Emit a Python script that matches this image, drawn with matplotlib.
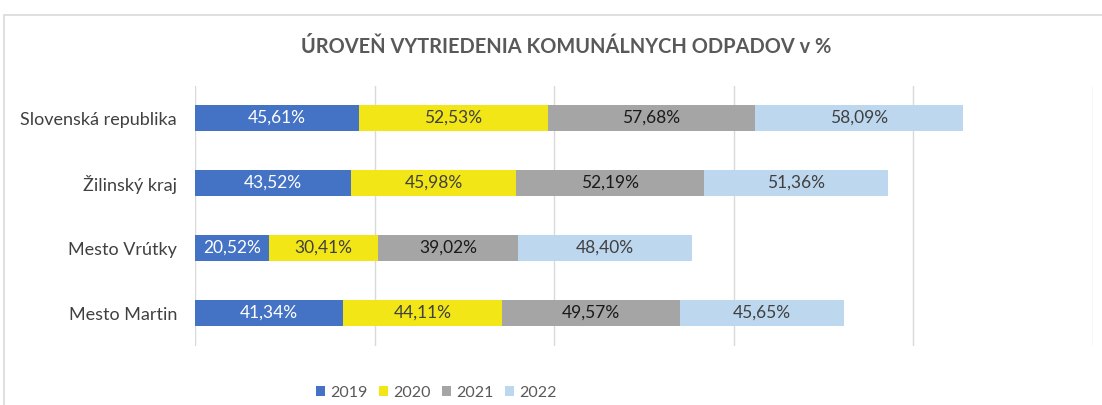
import matplotlib.pyplot as plt
import numpy as np
from matplotlib.patches import Rectangle

categories = ["Slovenská republika", "Žilinský kraj", "Mesto Vrútky", "Mesto Martin"]
years = ["2019", "2020", "2021", "2022"]
v2019 = [45.61, 43.52, 20.52, 41.34]
v2020 = [52.53, 45.98, 30.41, 44.11]
v2021 = [57.68, 52.19, 39.02, 49.57]
v2022 = [58.09, 51.36, 48.40, 45.65]

colors = ["#4472c4", "#f2e617", "#a5a5a5", "#bdd7ee"]
text_colors = ["white", "#404040", "#1a1a1a", "#404040"]


def fmt(v):
	return f"{v:.2f}%".replace(".", ",")


def main():
	plt.rcParams['font.family'] = ['Lato', 'DejaVu Sans']
	fig = plt.figure(figsize=(11.02, 4.05), dpi=100)
	W, H = 1102, 405

	# chart frame
	fig.patches.append(Rectangle((4 / W, -0.1), 1.2, (405 - 15) / H + 0.1, transform=fig.transFigure,
		fill=False, edgecolor="#d9d9d9", linewidth=1.2))

	ax = fig.add_axes([195 / W, 1 - 345.5 / H, (1093 - 195) / W, (345.5 - 85.5) / H])
	y = np.arange(len(categories))
	left = np.zeros(len(categories))
	series = [v2019, v2020, v2021, v2022]
	for i, vals in enumerate(series):
		vals = np.array(vals)
		bars = ax.barh(y, vals, left=left, height=0.39, color=colors[i], label=years[i], zorder=3)
		for b, v in zip(bars, vals):
			ax.text(b.get_x() + b.get_width() / 2, b.get_y() + b.get_height() / 2, fmt(v),
				ha="center", va="center", fontsize=12.5, color=text_colors[i], zorder=4)
		left += vals

	ax.set_xlim(0, 250)
	ax.set_ylim(len(categories) - 0.5, -0.5)
	ax.set_xticks(np.arange(0, 251, 50))
	ax.grid(axis="x", color="#d9d9d9", linewidth=1, zorder=0)
	ax.tick_params(axis="x", length=0, labelbottom=False)
	ax.tick_params(axis="y", length=0, pad=13, labelsize=13, labelcolor="#404040")
	ax.set_yticks(y)
	ax.set_yticklabels(categories)
	for s in ax.spines.values():
		s.set_visible(False)

	fig.text(566 / W, 1 - 47 / H, "ÚROVEŇ VYTRIEDENIA KOMUNÁLNYCH ODPADOV v %", ha="center", va="center",
		fontsize=14.4, fontweight="bold", color="#595959")

	handles, labels = ax.get_legend_handles_labels()
	fig.legend(handles, labels, loc="center", bbox_to_anchor=(436 / W, 1 - 393 / H), ncol=4, frameon=False,
		fontsize=11.5, labelcolor="#595959", handlelength=0.6, handleheight=0.6, handletextpad=0.3,
		columnspacing=0.7)

	fig.savefig("out.png", dpi=100)


if __name__ == "__main__":
	main()
